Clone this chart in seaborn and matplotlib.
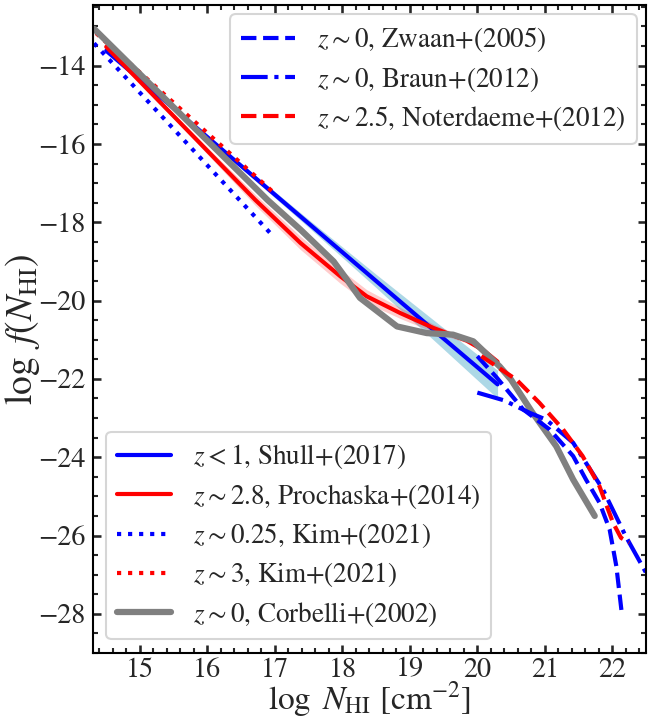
import numpy as np
import pandas as pd
import seaborn as sns
import matplotlib.pyplot as plt
from matplotlib.ticker import AutoMinorLocator

# DATA
shull_x = [14.5, 15.5, 16.5, 17.5, 18.5, 19.5, 20.3]
shull_y = [-13.62, -15.09, -16.56, -18.03, -19.50, -20.97, -22.14]
shull_err = [0.02, 0.03, 0.06, 0.10, 0.17, 0.27, 0.36]

prochaska_x = [14.5, 15.5, 16.2, 16.71, 17.38, 17.97, 18.36, 18.86, 19.35, 19.84, 20.1, 20.3]
prochaska_y = [-13.52, -15.29, -16.53, -17.43, -18.53, -19.38, -19.89, -20.32, -20.70, -21.02, -21.28, -21.56]
prochaska_err = [0.03, 0.06, 0.10, 0.14, 0.17, 0.18, 0.17, 0.14, 0.10, 0.06, 0.05, 0.04]

kim_low_x = [14.32, 16.96]
kim_low_y = [-13.43, -18.33]

kim_high_x = [14.35, 16.98]
kim_high_y = [-13.17, -17.24]

corbelli_x = [14.32, 16.89, 17.38, 17.87, 18.07, 18.26, 18.81, 19.25, 19.64, 19.94, 20.33,
              20.5, 20.82, 21.17, 21.42, 21.74]
corbelli_y = [-13.06, -17.43, -18.19, -19.0, -19.47, -19.93, -20.66, -20.83, -20.87, -21.04, -21.68,
              -22.02, -22.87, -23.72, -24.57, -25.5]

zwaan_x = [20.0, 20.28, 20.68, 21.07, 21.42, 21.61, 21.81, 21.96, 22.06, 22.14]
zwaan_y = [-21.42, -21.95, -22.78, -23.29, -23.97, -24.57, -25.16, -25.84, -26.78, -27.97]

braun_x = [20.0, 20.4, 20.78, 21.02, 21.42, 21.86, 22.2, 22.5]
braun_y = [-22.35, -22.55, -22.87, -23.04, -23.63, -24.82, -26.02, -26.95]

noter_x = [20.06, 20.58, 20.92, 21.27, 21.56, 21.81, 22.01, 22.13, 22.25]
noter_y = [-21.42, -22.02, -22.61, -23.29, -23.97, -24.74, -25.67, -26.06, -26.18]

x_ticks = [15, 16, 17, 18, 19, 20, 21, 22]
y_ticks = [-14, -16, -18, -20, -22, -24, -26, -28]

# PLOT SETTING
sns.set_theme(style="ticks")
plt.rcParams['font.family'] = ['STIXGeneral', 'Liberation Serif', 'DejaVu Serif']
plt.rcParams['mathtext.fontset'] = 'stix'

fig = plt.figure(figsize=(4.4, 719 / 150), dpi=150)
ax = fig.add_axes([0.1405, 0.0918, 0.8383, 0.9013])


def line(x, y, label, color, ls, lw):
    df = pd.DataFrame({"x": x, "y": y})
    sns.lineplot(data=df, x="x", y="y", ax=ax, color=color, linestyle=ls, linewidth=lw,
                 label=label, sort=False, estimator=None)


# BANDS
ax.fill_between(shull_x, np.array(shull_y) - shull_err, np.array(shull_y) + shull_err,
                color="lightblue", lw=0, zorder=1)
ax.fill_between(prochaska_x, np.array(prochaska_y) - prochaska_err, np.array(prochaska_y) + prochaska_err,
                color="red", alpha=0.2, lw=0, zorder=1)

line(shull_x, shull_y, r"$z<1$, Shull+(2017)", "blue", "-", 2)
line(prochaska_x, prochaska_y, r"$z\sim2.8$, Prochaska+(2014)", "red", "-", 2)
line(kim_low_x, kim_low_y, r"$z\sim0.25$, Kim+(2021)", "blue", ":", 2)
line(kim_high_x, kim_high_y, r"$z\sim3$, Kim+(2021)", "red", ":", 2)
line(corbelli_x, corbelli_y, r"$z\sim0$, Corbelli+(2002)", "grey", "-", 3)
line(zwaan_x, zwaan_y, r"$z\sim0$, Zwaan+(2005)", "blue", "--", 2)
line(braun_x, braun_y, r"$z\sim0$, Braun+(2012)", "blue", "-.", 2)
line(noter_x, noter_y, r"$z\sim2.5$, Noterdaeme+(2012)", "red", "--", 2)

ax.set_xlim(14.3, 22.5)
ax.set_ylim(-29.0, -12.45)
ax.set_xticks(x_ticks)
ax.set_yticks(y_ticks)
ax.xaxis.set_minor_locator(AutoMinorLocator(5))
ax.yaxis.set_minor_locator(AutoMinorLocator(4))
ax.tick_params(which="both", direction="in", top=True, right=True, labelsize=13.5)
ax.tick_params(axis="x", which="major", pad=2.2)
ax.tick_params(which="major", length=4)
ax.tick_params(which="minor", length=2.2)
for s in ax.spines.values():
    s.set_linewidth(1.0)
    s.set_color("black")

ax.set_xlabel(r"$\log\ N_{\rm HI}\ [{\rm cm^{-2}}]$", fontsize=16, labelpad=-1.6)
ax.set_ylabel(r"$\log\ f(N_{\rm HI})$", fontsize=18, labelpad=-2)

handles, labels = ax.get_legend_handles_labels()
leg1 = ax.legend(handles[5:], labels[5:], loc="upper right", fontsize=13, labelspacing=0.38,
                 borderaxespad=0.35)
ax.add_artist(leg1)
ax.legend(handles[:5], labels[:5], loc="lower left", fontsize=13, labelspacing=0.38)

plt.savefig("out.png", dpi=150)
plt.close()
